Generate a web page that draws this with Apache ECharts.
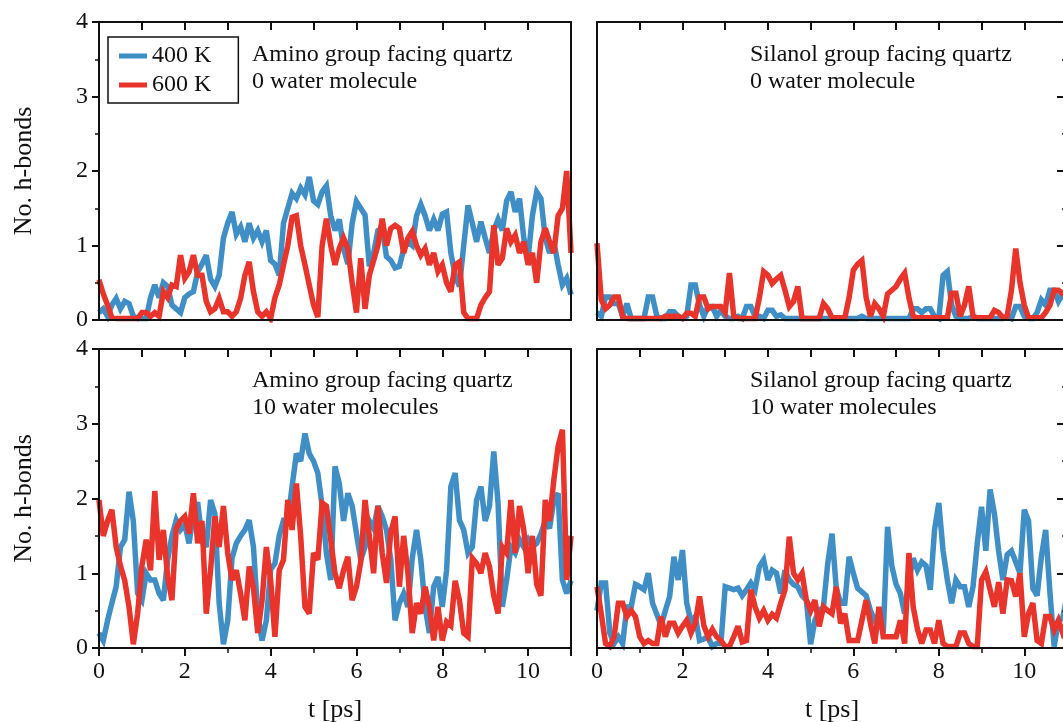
<!DOCTYPE html>
<html>
<head>
<meta charset="utf-8">
<script src="https://cdn.jsdelivr.net/npm/echarts@6/dist/echarts.min.js"></script>
<style>
html,body{margin:0;padding:0;background:#fff;}
#chart{width:1063px;height:722px;}
</style>
</head>
<body>
<div id="chart"></div>
<script>
// sample times (ps)
const tPs = [0,0.1,0.2,0.3,0.4,0.5,0.6,0.7,0.8,0.9,1,
1.1,1.2,1.3,1.4,1.5,1.6,1.7,1.8,1.9,2,
2.1,2.2,2.3,2.4,2.5,2.6,2.7,2.8,2.9,3,
3.1,3.2,3.3,3.4,3.5,3.6,3.7,3.8,3.9,4,
4.1,4.2,4.3,4.4,4.5,4.6,4.7,4.8,4.9,5,
5.1,5.2,5.3,5.4,5.5,5.6,5.7,5.8,5.9,6,
6.1,6.2,6.3,6.4,6.5,6.6,6.7,6.8,6.9,7,
7.1,7.2,7.3,7.4,7.5,7.6,7.7,7.8,7.9,8,
8.1,8.2,8.3,8.4,8.5,8.6,8.7,8.8,8.9,9,
9.1,9.2,9.3,9.4,9.5,9.6,9.7,9.8,9.9,10,
10.1,10.2,10.3,10.4,10.5,10.6,10.7,10.8,10.9,11];

// Amino group facing quartz, 0 water molecule
const aminoDry400 = [0.1,0.15,0.05,0.2,0.29,0.15,0.25,0.22,0.05,0.02,0.02,
0.02,0.3,0.47,0.3,0.5,0.45,0.2,0.15,0.1,0.3,
0.35,0.38,0.65,0.75,0.87,0.55,0.45,0.6,1.1,1.3,
1.45,1.15,1.25,1.05,1.3,1.1,1.2,1.05,1.2,0.8,
0.75,0.6,1.3,1.5,1.7,1.63,1.77,1.68,1.92,1.6,
1.55,1.72,1.8,1.4,1.2,1.35,0.96,0.75,1.3,1.59,
1.5,1.41,0.72,0.9,1.2,1.23,0.85,0.8,0.7,0.72,
0.95,1.05,1.0,1.4,1.55,1.4,1.2,1.35,1.2,1.42,
1.45,0.9,0.6,0.45,1.0,1.54,1.3,1.05,1.32,1.1,
0.9,1.2,1.35,1.2,1.6,1.72,1.45,1.63,1.1,0.83,
1.4,1.72,1.63,1.1,0.9,1.05,0.74,0.47,0.56,0.34];
const aminoDry600 = [0.54,0.35,0.2,0.03,0.02,0.02,0.02,0.02,0.02,0.02,0.1,
0.1,0.05,0.1,0.05,0.38,0.3,0.47,0.45,0.87,0.56,
0.65,0.87,0.6,0.6,0.25,0.11,0.15,0.29,0.11,0.11,
0.05,0.11,0.29,0.6,0.78,0.38,0.11,0.05,0.11,0.02,
0.3,0.47,0.74,1.0,1.38,1.4,1.0,0.74,0.47,0.2,
0.04,1.0,1.36,1.0,0.74,0.96,1.1,0.96,0.5,0.1,
0.83,0.15,0.6,0.8,1.0,1.36,1.0,1.23,1.27,1.23,
0.9,1.1,1.19,1.0,0.87,0.96,0.74,0.9,0.65,0.74,
0.5,0.38,0.74,0.78,0.1,0.02,0.02,0.02,0.2,0.3,
0.38,1.27,0.74,0.83,1.23,1.05,1.14,0.9,1.05,0.74,
0.9,0.5,1.05,1.23,1.05,0.9,1.4,1.5,2.0,0.9];

// Silanol group facing quartz, 0 water molecule
const silanolDry400 = [0.1,0.05,0.31,0.31,0.22,0.22,0.05,0.22,0.02,0.02,0.02,
0.02,0.31,0.31,0.05,0.02,0.02,0.11,0.11,0.05,0.02,
0.05,0.47,0.47,0.2,0.05,0.18,0.18,0.05,0.13,0.05,
0.02,0.02,0.05,0.02,0.18,0.18,0.05,0.05,0.02,0.13,
0.13,0.05,0.07,0.02,0.02,0.02,0.02,0.02,0.02,0.02,
0.02,0.02,0.02,0.02,0.02,0.02,0.02,0.02,0.02,0.02,
0.02,0.05,0.02,0.02,0.02,0.02,0.02,0.02,0.02,0.02,
0.02,0.02,0.02,0.15,0.15,0.1,0.15,0.15,0.05,0.02,
0.6,0.65,0.2,0.05,0.02,0.02,0.02,0.05,0.02,0.02,
0.02,0.02,0.02,0.02,0.02,0.05,0.02,0.18,0.18,0.05,
0.02,0.02,0.1,0.27,0.2,0.4,0.4,0.25,0.35,0.3];
const silanolDry600 = [1.03,0.27,0.15,0.2,0.31,0.31,0.04,0.02,0.02,0.02,0.02,
0.02,0.02,0.02,0.02,0.02,0.05,0.05,0.05,0.05,0.02,
0.09,0.09,0.05,0.31,0.31,0.15,0.18,0.18,0.18,0.1,
0.63,0.05,0.02,0.02,0.02,0.02,0.02,0.3,0.65,0.6,
0.49,0.55,0.6,0.4,0.18,0.25,0.45,0.02,0.02,0.02,
0.02,0.02,0.22,0.15,0.03,0.03,0.03,0.03,0.3,0.67,
0.75,0.8,0.3,0.05,0.22,0.15,0.05,0.35,0.4,0.45,
0.55,0.63,0.3,0.05,0.03,0.03,0.03,0.03,0.03,0.03,
0.03,0.03,0.36,0.36,0.05,0.2,0.45,0.05,0.03,0.03,
0.03,0.03,0.13,0.1,0.03,0.05,0.4,0.96,0.5,0.2,
0.03,0.03,0.03,0.03,0.1,0.2,0.4,0.4,0.35,0.35];

// Amino group facing quartz, 10 water molecules
const aminoWet400 = [0.2,0.1,0.37,0.6,0.82,1.35,1.45,2.09,1.7,0.73,0.64,
1.0,0.91,0.91,0.73,0.64,1.18,1.5,1.71,1.58,1.65,
1.4,1.8,1.95,1.45,1.35,1.98,1.8,0.6,0.05,0.37,
1.2,1.4,1.5,1.58,1.71,1.35,0.45,0.1,0.37,1.05,
1.13,1.5,1.71,1.71,2.16,2.6,2.5,2.87,2.6,2.5,
2.34,1.9,1.27,0.91,2.43,2.2,1.7,2.07,1.9,1.53,
1.18,1.35,1.7,1.6,1.9,1.76,1.58,1.18,0.37,0.6,
0.73,0.55,1.2,1.58,1.18,0.55,0.2,0.82,0.95,0.55,
1.04,2.16,2.34,1.71,1.58,1.27,1.35,1.98,2.16,1.7,
1.9,2.63,1.94,0.55,0.91,1.35,1.27,1.45,1.35,1.45,
1.35,1.4,1.53,1.7,1.6,1.98,2.07,0.91,0.73,0.9];
const aminoWet600 = [1.98,1.5,1.7,1.85,1.35,1.1,0.9,0.55,0.05,0.46,1.1,
1.45,1.04,2.1,1.18,1.58,0.95,0.64,1.6,1.7,1.76,
1.53,2.07,1.4,1.7,0.46,1.04,1.76,1.35,1.9,1.27,
0.91,1.04,0.73,0.37,1.09,0.8,0.2,0.64,1.35,0.91,
0.15,1.04,1.18,1.98,1.58,2.2,1.5,0.55,0.46,1.27,
1.18,1.94,1.9,1.45,1.0,0.8,1.04,1.22,0.64,0.82,
1.15,1.98,1.5,1.0,1.9,1.27,0.87,1.55,1.76,0.82,
1.5,1.0,0.2,0.6,0.46,0.82,0.55,0.1,0.55,0.1,
0.35,0.3,0.9,0.64,0.2,0.15,1.2,1.13,1.0,1.27,
1.09,0.7,0.46,1.35,1.27,1.98,1.27,1.9,1.58,1.0,
1.5,0.85,0.7,1.98,1.7,2.25,2.7,2.92,0.91,1.5];

// Silanol group facing quartz, 10 water molecules
const silanolWet400 = [0.5,0.87,0.87,0.2,0.06,0.15,0.06,0.55,0.55,0.85,0.82,
0.78,1.0,0.6,0.45,0.3,0.5,0.69,1.22,0.91,1.31,
0.6,0.35,0.42,0.1,0.12,0.15,0.02,0.06,0.06,0.82,
0.8,0.78,0.8,0.7,0.78,0.87,0.78,1.09,1.18,0.91,
1.04,1.0,0.73,1.04,0.91,0.85,0.82,0.7,0.64,0.05,
0.37,0.5,0.55,1.13,1.53,0.8,0.6,0.6,1.22,1.0,
0.8,0.75,0.7,0.5,0.37,0.45,0.2,1.62,1.1,0.85,
0.73,0.46,0.9,1.2,1.04,1.15,1.1,0.78,1.58,1.94,
1.3,0.91,0.6,0.91,0.82,0.82,0.55,0.82,1.4,1.89,
1.3,2.12,1.8,1.3,0.91,1.25,1.3,1.15,1.0,1.85,
1.7,0.8,0.7,1.22,1.58,0.75,0.02,0.37,0.4,0.7];
const silanolWet600 = [0.82,0.46,0.06,0.02,0.15,0.6,0.6,0.42,0.5,0.42,0.15,
0.06,0.1,0.06,0.06,0.42,0.15,0.33,0.33,0.2,0.29,
0.37,0.2,0.33,0.69,0.3,0.15,0.25,0.15,0.1,0.02,
0.02,0.15,0.29,0.08,0.1,0.78,0.55,0.4,0.5,0.37,
0.45,0.4,0.6,0.78,1.49,1.0,0.91,1.0,0.64,0.5,
0.64,0.29,0.55,0.5,0.46,0.82,0.33,0.46,0.1,0.1,
0.1,0.37,0.64,0.33,0.06,0.55,0.15,0.15,0.15,0.15,
0.37,0.06,1.27,0.55,0.25,0.06,0.24,0.24,0.06,0.37,
0.06,0.02,0.02,0.02,0.2,0.2,0.06,0.02,0.02,0.91,
1.02,0.78,0.55,0.88,0.46,0.91,0.9,0.69,1.0,0.15,
0.46,0.6,0.1,0.06,0.42,0.42,0.24,0.37,0.2,0.3];

const xTicks = [0, 2, 4, 6, 8, 10];
const yTicks = [0, 1, 2, 3, 4];
const seriesNames = ['400 K', '600 K'];
const panelNotes = [
  'Amino group facing quartz\n0 water molecule',
  'Silanol group facing quartz\n0 water molecule',
  'Amino group facing quartz\n10 water molecules',
  'Silanol group facing quartz\n10 water molecules'
];
const panelData = [
  [aminoDry400, aminoDry600],
  [silanolDry400, silanolDry600],
  [aminoWet400, aminoWet600],
  [silanolWet400, silanolWet600]
];

const FONT = '"Liberation Serif", "DejaVu Serif", "Times New Roman", serif';
const INK = '#111';
const BLUE = '#3f8fc6';
const RED = '#e8342a';

const grids = [
  {left: 99, top: 22, width: 472, height: 298},
  {left: 597, top: 22, width: 470, height: 298},
  {left: 99, top: 349, width: 472, height: 299},
  {left: 597, top: 349, width: 470, height: 299}
].map(g => Object.assign(g, {outerBoundsMode: 'none', containLabel: false}));

const xAxes = [], yAxes = [], series = [], graphics = [];
const lineStyle = {color: INK, width: 2};

for (let i = 0; i < 4; i++) {
  const isBottom = i >= 2;
  const isLeft = i % 2 === 0;
  // bottom x axis
  xAxes.push({
    type: 'value', gridIndex: i, position: 'bottom', min: 0, max: 11, interval: 2, z: 5,
    axisLine: {show: true, onZero: false, lineStyle},
    axisTick: {show: isBottom, inside: false, length: 8, lineStyle: {color: INK, width: 2}},
    minorTick: {show: isBottom, splitNumber: 2, length: 5, lineStyle: {color: INK, width: 1.5}},
    splitLine: {show: false},
    axisLabel: {show: isBottom, margin: 12, fontSize: 24, fontFamily: FONT, color: INK,
      formatter: v => xTicks.indexOf(v) >= 0 ? String(v) : ''},
    name: isBottom ? 't [ps]' : '', nameLocation: 'middle', nameGap: 49,
    nameTextStyle: {fontSize: 26, fontFamily: FONT, color: INK}
  });
  // left y axis
  yAxes.push({
    type: 'value', gridIndex: i, position: 'left', min: 0, max: 4, interval: 1, z: 5,
    axisLine: {show: true, onZero: false, lineStyle},
    axisTick: {show: isLeft, inside: false, length: 7, lineStyle: {color: INK, width: 2}},
    minorTick: {show: isLeft, splitNumber: 2, length: 4, lineStyle: {color: INK, width: 1.5}},
    splitLine: {show: false},
    axisLabel: {show: isLeft, margin: 11, fontSize: 24, fontFamily: FONT, color: INK,
      formatter: v => yTicks.indexOf(v) >= 0 ? String(v) : ''},
    name: isLeft ? 'No. h-bonds' : '', nameLocation: 'middle', nameGap: 62,
    nameTextStyle: {fontSize: 26, fontFamily: FONT, color: INK}
  });
}
for (let i = 0; i < 4; i++) {
  const isLeft = i % 2 === 0;
  // top x axis
  xAxes.push({
    type: 'value', gridIndex: i, position: 'top', min: 0, max: 11, interval: 1, z: 5,
    axisLine: {show: true, onZero: false, lineStyle},
    axisTick: {show: true, inside: true, length: 8, lineStyle: {color: INK, width: 2}},
    splitLine: {show: false}, axisLabel: {show: false}
  });
  // right y axis
  yAxes.push({
    type: 'value', gridIndex: i, position: 'right', min: 0, max: 4, interval: 1, z: 5,
    axisLine: {show: true, onZero: false, lineStyle},
    axisTick: {show: !isLeft, inside: true, length: 10, lineStyle: {color: INK, width: 2}},
    minorTick: {show: !isLeft, splitNumber: 2, length: 5, lineStyle: {color: INK, width: 1.5}},
    splitLine: {show: false}, axisLabel: {show: false}
  });
}

for (let i = 0; i < 4; i++) {
  panelData[i].forEach((vals, k) => {
    series.push({
      type: 'line', name: seriesNames[k], xAxisIndex: i, yAxisIndex: i,
      data: tPs.map((t, j) => [t, vals[j]]),
      showSymbol: false, symbol: 'none', clip: true, z: 2 + k,
      lineStyle: {color: k === 0 ? BLUE : RED, width: 5.5, join: 'miter', miterLimit: 3},
      itemStyle: {color: k === 0 ? BLUE : RED},
      silent: true, animation: false
    });
  });
}

const noteX = [252, 750, 252, 750];
const noteY = [41.5, 41.5, 367.5, 367.5];
for (let i = 0; i < 4; i++) {
  graphics.push({
    type: 'text', left: noteX[i], top: noteY[i], z: 10,
    style: {text: panelNotes[i], fontSize: 24, fontFamily: FONT, fill: INK, lineHeight: 27,
      align: 'left', verticalAlign: 'top'}
  });
}

const chart = echarts.init(document.getElementById('chart'), null, {renderer: 'canvas'});
chart.setOption({
  animation: false,
  backgroundColor: '#fff',
  grid: grids,
  xAxis: xAxes,
  yAxis: yAxes,
  series: series,
  legend: {
    data: seriesNames, orient: 'vertical', left: 108, top: 37,
    padding: [7, 27, 6, 11], itemWidth: 28, itemHeight: 5, itemGap: 5, itemTextGap: 10,
    icon: 'rect', selectedMode: false,
    borderColor: INK, borderWidth: 1.5, backgroundColor: '#fff',
    textStyle: {fontSize: 24, fontFamily: FONT, color: INK}
  },
  graphic: graphics
});
</script>
</body>
</html>
